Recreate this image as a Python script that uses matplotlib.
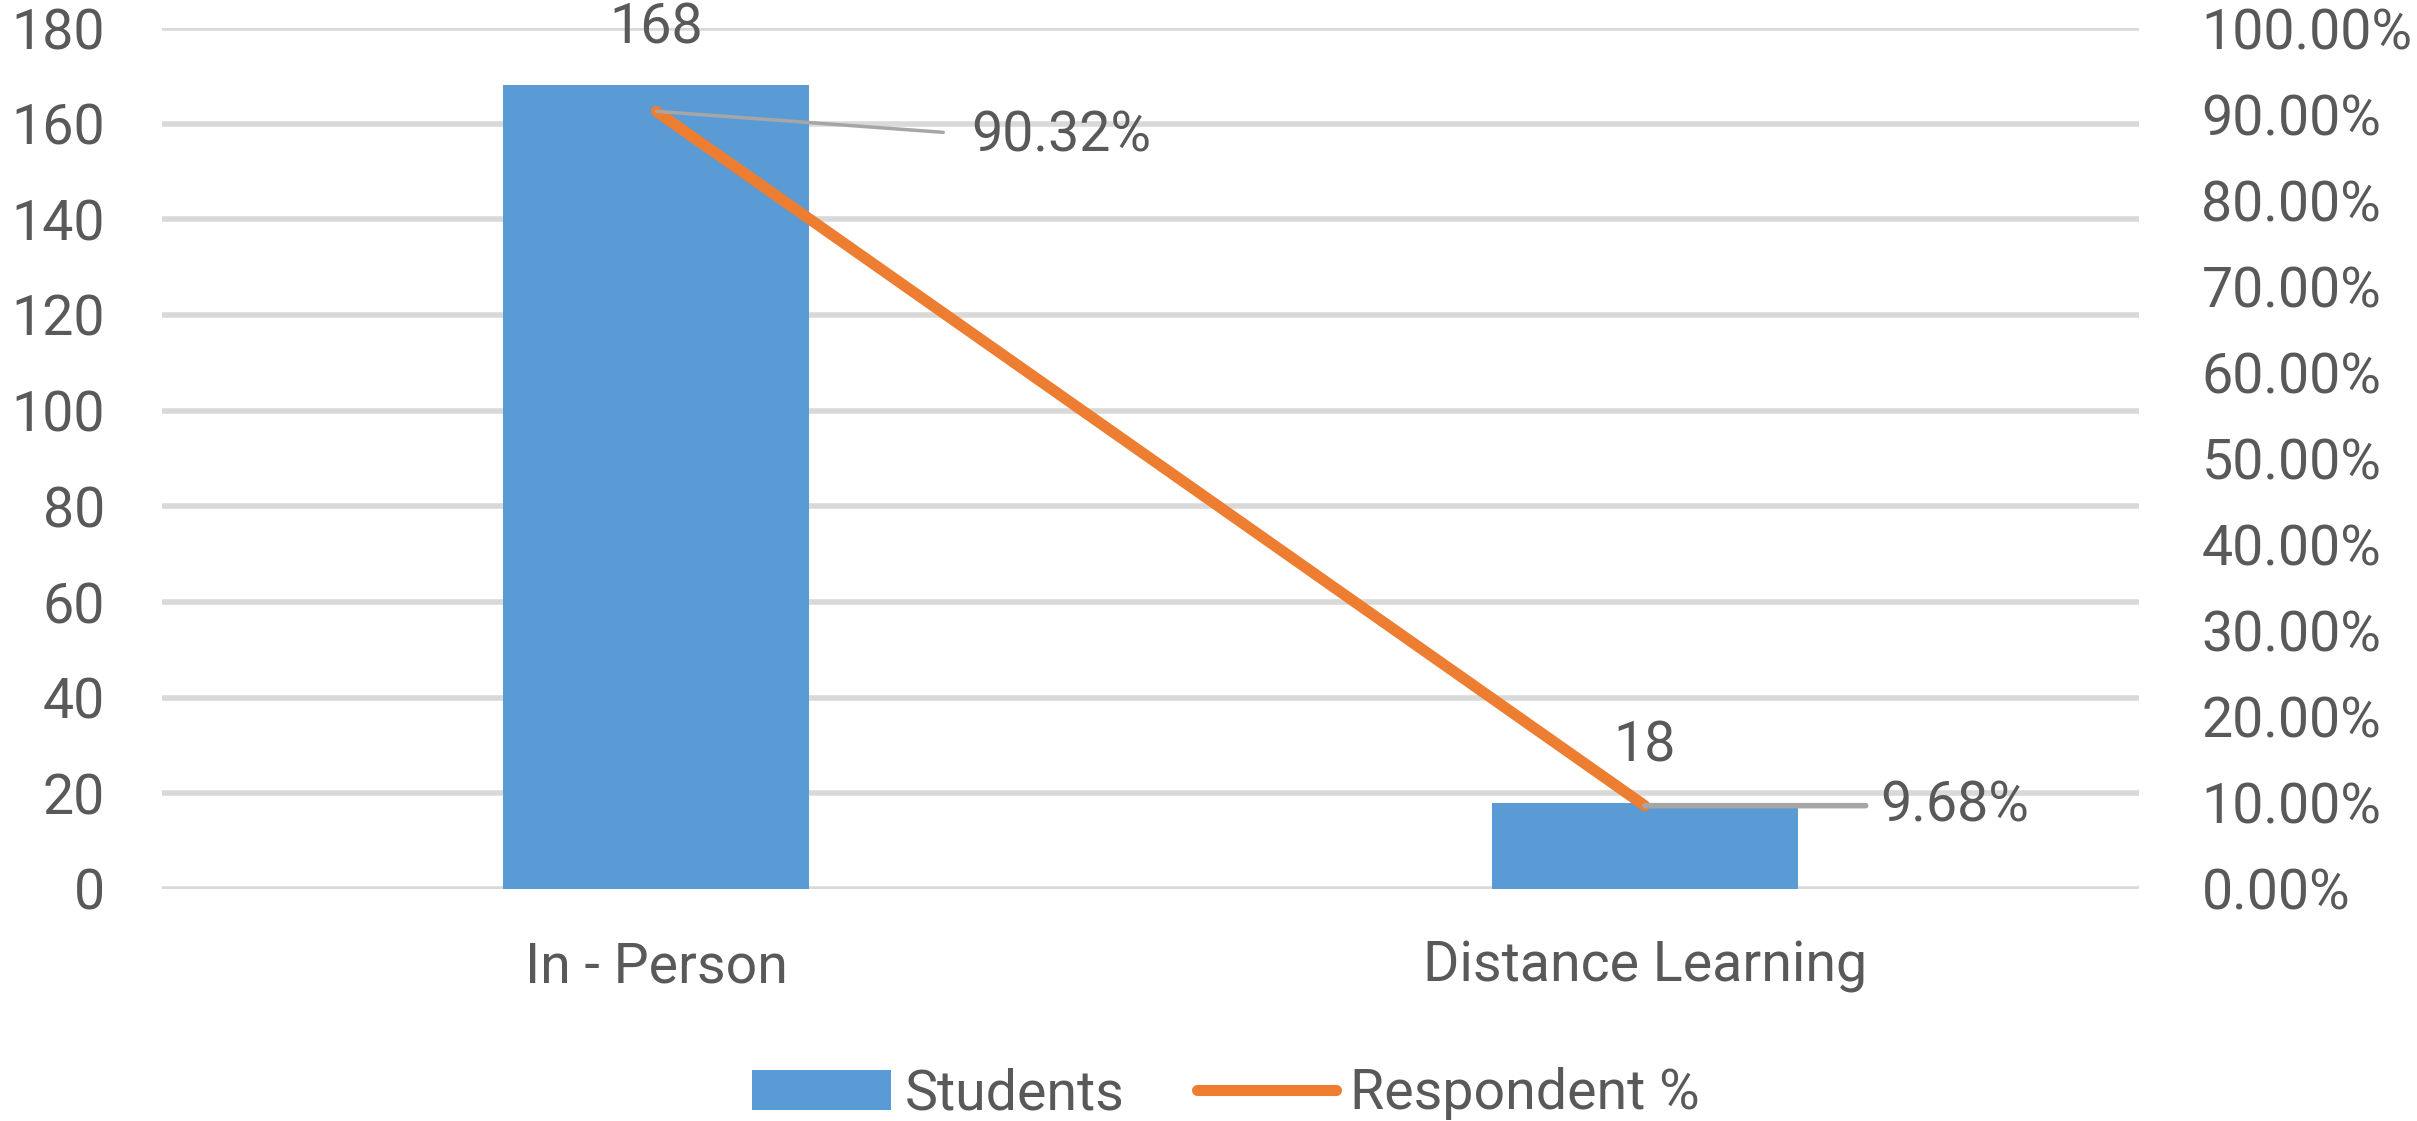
import matplotlib
matplotlib.use("Agg")
import matplotlib.pyplot as plt
from matplotlib.patches import Patch
from matplotlib.lines import Line2D
import numpy as np

categories = ["In - Person", "Distance Learning"]
students = [168, 18]
respondent_pct = [90.32, 9.68]
left_ticks = [0, 20, 40, 60, 80, 100, 120, 140, 160, 180]
right_ticks = [0, 10, 20, 30, 40, 50, 60, 70, 80, 90, 100]

BLUE = "#5b9bd5"
ORANGE = "#ed7d31"
TXT = "#595959"
GRID = "#d9d9d9"
LEAD = "#a6a6a6"
FS = 40

plt.rcParams['font.family'] = ['Roboto', 'DejaVu Sans']

W, H = 2417, 1121
fig = plt.figure(figsize=(W / 100, H / 100), dpi=100)
ax = fig.add_axes([162 / W, (H - 889) / H, 1977 / W, 861 / H])
ax2 = ax.twinx()

x = np.arange(len(categories))
ax.bar(x, students, width=0.31, color=BLUE, zorder=2)
ax.set_xlim(-0.5, 1.5)
ax.set_ylim(0, 180)
ax.set_yticks(left_ticks)
ax.set_yticklabels([str(t) for t in left_ticks])
ax.set_xticks(x)
ax.set_xticklabels(categories)
ax.grid(axis='y', color=GRID, lw=4, zorder=0)
ax.set_axisbelow(True)
for s in ax.spines.values():
    s.set_visible(False)
ax.tick_params(axis='y', length=0, pad=41, labelsize=FS, labelcolor=TXT)
ax.tick_params(axis='x', length=0, pad=37, labelsize=FS, labelcolor=TXT)

for xi, v in zip(x, students):
    ax.annotate(str(v), xy=(xi, v), xytext=(0, 41), textcoords='offset points',
                ha='center', va='center', fontsize=FS, color=TXT)

pct = [p / 100 for p in respondent_pct]
ax2.plot(x, pct, color=ORANGE, lw=8, solid_capstyle='round', zorder=3)
ax2.set_ylim(0, 1.0)
ax2.set_yticks([t / 100 for t in right_ticks])
ax2.set_yticklabels([f"{t:.2f}%" for t in right_ticks])
for s in ax2.spines.values():
    s.set_visible(False)
ax2.tick_params(axis='y', length=0, pad=45, labelsize=FS, labelcolor=TXT)

# data labels with leader lines
lead_ends = [(287 * 0.72, -21 * 0.72), (221 * 0.72, 0)]
lead_lw = [2.5, 4]
label_offs = [(315 * 0.72, -25 * 0.72), (236 * 0.72, 0)]
for xi, p, raw, le, lw, lo in zip(x, pct, respondent_pct, lead_ends, lead_lw, label_offs):
    ax2.annotate('', xy=(xi, p), xytext=le, textcoords='offset points',
                 arrowprops=dict(arrowstyle='-', color=LEAD, lw=lw,
                                 shrinkA=0, shrinkB=0), zorder=4)
    ax2.annotate(f"{raw:.2f}%", xy=(xi, p), xytext=lo, textcoords='offset points',
                 ha='left', va='center', fontsize=FS, color=TXT)

handles = [Patch(facecolor=BLUE, edgecolor='none'),
           Line2D([0], [0], color=ORANGE, lw=8, solid_capstyle='round')]
fig.legend(handles, ["Students", "Respondent %"], loc='center',
           bbox_to_anchor=(1226 / W, (H - 1094) / H), ncol=2, frameon=False,
           fontsize=FS, labelcolor=TXT, handlelength=2.5, handleheight=0.75,
           handletextpad=0.25, columnspacing=1.3)

fig.savefig("out.png", dpi=100)
